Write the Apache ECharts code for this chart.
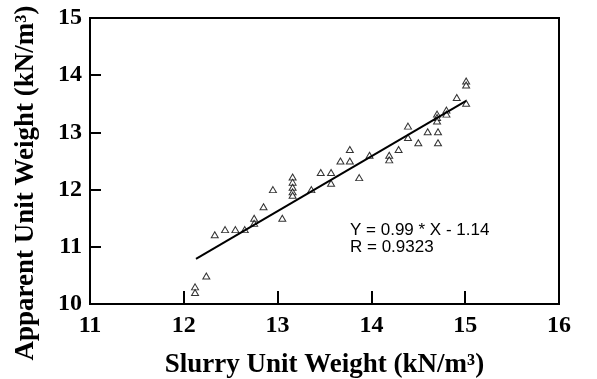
<!DOCTYPE html>
<html>
<head>
<meta charset="utf-8">
<script src="https://cdn.jsdelivr.net/npm/echarts@6/dist/echarts.min.js"></script>
<style>
  html, body { margin: 0; padding: 0; background: #fff; }
  #chart { width: 597px; height: 379px; }
</style>
</head>
<body>
<div id="chart"></div>
<script>
// Slurry unit weight vs apparent unit weight (kN/m³)
const slurryWeight = [
  12.12, 12.12, 12.24, 12.33, 12.44, 12.55, 12.65, 12.75, 12.75, 12.85,
  12.95, 13.05, 13.16, 13.16, 13.16, 13.16, 13.16, 13.36, 13.46, 13.57,
  13.57, 13.67, 13.77, 13.77, 13.87, 13.98, 14.19, 14.19, 14.29, 14.39,
  14.39, 14.50, 14.60, 14.71, 14.71, 14.70, 14.70, 14.70, 14.80, 14.80,
  14.91, 15.01, 15.01, 15.01
];
const apparentWeight = [
  10.30, 10.20, 10.49, 11.21, 11.30, 11.30, 11.30, 11.50, 11.41, 11.70,
  12.00, 11.50, 12.22, 12.13, 12.04, 11.96, 11.90, 12.00, 12.30, 12.30,
  12.11, 12.50, 12.50, 12.70, 12.21, 12.60, 12.60, 12.52, 12.70, 12.91,
  13.11, 12.82, 13.01, 13.01, 12.82, 13.32, 13.26, 13.20, 13.39, 13.32,
  13.61, 13.51, 13.90, 13.83
];
// Regression line end points
const fitX = [12.13, 15.01];
const fitY = [10.79, 13.55];

const xTicks = [11, 12, 13, 14, 15, 16];
const yTicks = [10, 11, 12, 13, 14, 15];
const xTitle = 'Slurry Unit Weight (kN/m³)';
const yTitle = 'Apparent Unit Weight (kN/m³)';
const fitLabel = ['Y = 0.99 * X - 1.14', 'R = 0.9323'];

const points = slurryWeight.map((x, i) => [x, apparentWeight[i]]);
const fitLine = fitX.map((x, i) => [x, fitY[i]]);

const serifBold = {
  fontFamily: 'Liberation Serif',
  fontWeight: 700,
  color: '#000'
};

const chart = echarts.init(document.getElementById('chart'), null, { renderer: 'canvas' });
chart.setOption({
  animation: false,
  backgroundColor: '#fff',
  grid: {
    left: 90, top: 18, width: 469, height: 286,
    outerBoundsMode: 'none',
    containLabel: false,
    show: true, borderColor: '#000', borderWidth: 2, backgroundColor: 'transparent'
  },
  xAxis: {
    type: 'value',
    min: xTicks[0], max: xTicks[xTicks.length - 1], interval: 1,
    axisLine: { show: true, lineStyle: { color: '#000', width: 2 } },
    axisTick: { show: true, inside: true, length: 13, lineStyle: { color: '#000', width: 2 } },
    axisLabel: Object.assign({ margin: 10, fontSize: 24 }, serifBold),
    splitLine: { show: false },
    name: xTitle,
    nameLocation: 'middle',
    nameGap: 48,
    nameTextStyle: Object.assign({ fontSize: 27 }, serifBold)
  },
  yAxis: {
    type: 'value',
    min: yTicks[0], max: yTicks[yTicks.length - 1], interval: 1,
    axisLine: { show: true, lineStyle: { color: '#000', width: 2 } },
    axisTick: { show: true, inside: true, length: 11, lineStyle: { color: '#000', width: 2 } },
    axisLabel: Object.assign({ margin: 8, fontSize: 24 }, serifBold),
    splitLine: { show: false }
  },
  series: [
    {
      type: 'scatter',
      data: points,
      symbol: 'triangle',
      symbolSize: [7, 6],
      itemStyle: { color: '#fff', borderColor: '#000', borderWidth: 1 },
      z: 2
    },
    {
      type: 'line',
      data: fitLine,
      symbol: 'none',
      lineStyle: { color: '#000', width: 2 },
      z: 3
    }
  ],
  graphic: [
    {
      type: 'text',
      x: 26, y: 183,
      rotation: Math.PI / 2,
      style: {
        text: yTitle,
        align: 'center',
        verticalAlign: 'middle',
        fontFamily: 'Liberation Serif',
        fontWeight: 'bold',
        fontSize: 27,
        fill: '#000'
      }
    },
    {
      type: 'text',
      left: 350, top: 222,
      style: {
        text: fitLabel.join('\n'),
        fontFamily: 'Liberation Sans',
        fontSize: 17,
        lineHeight: 17,
        fill: '#000'
      }
    }
  ]
});
</script>
</body>
</html>
